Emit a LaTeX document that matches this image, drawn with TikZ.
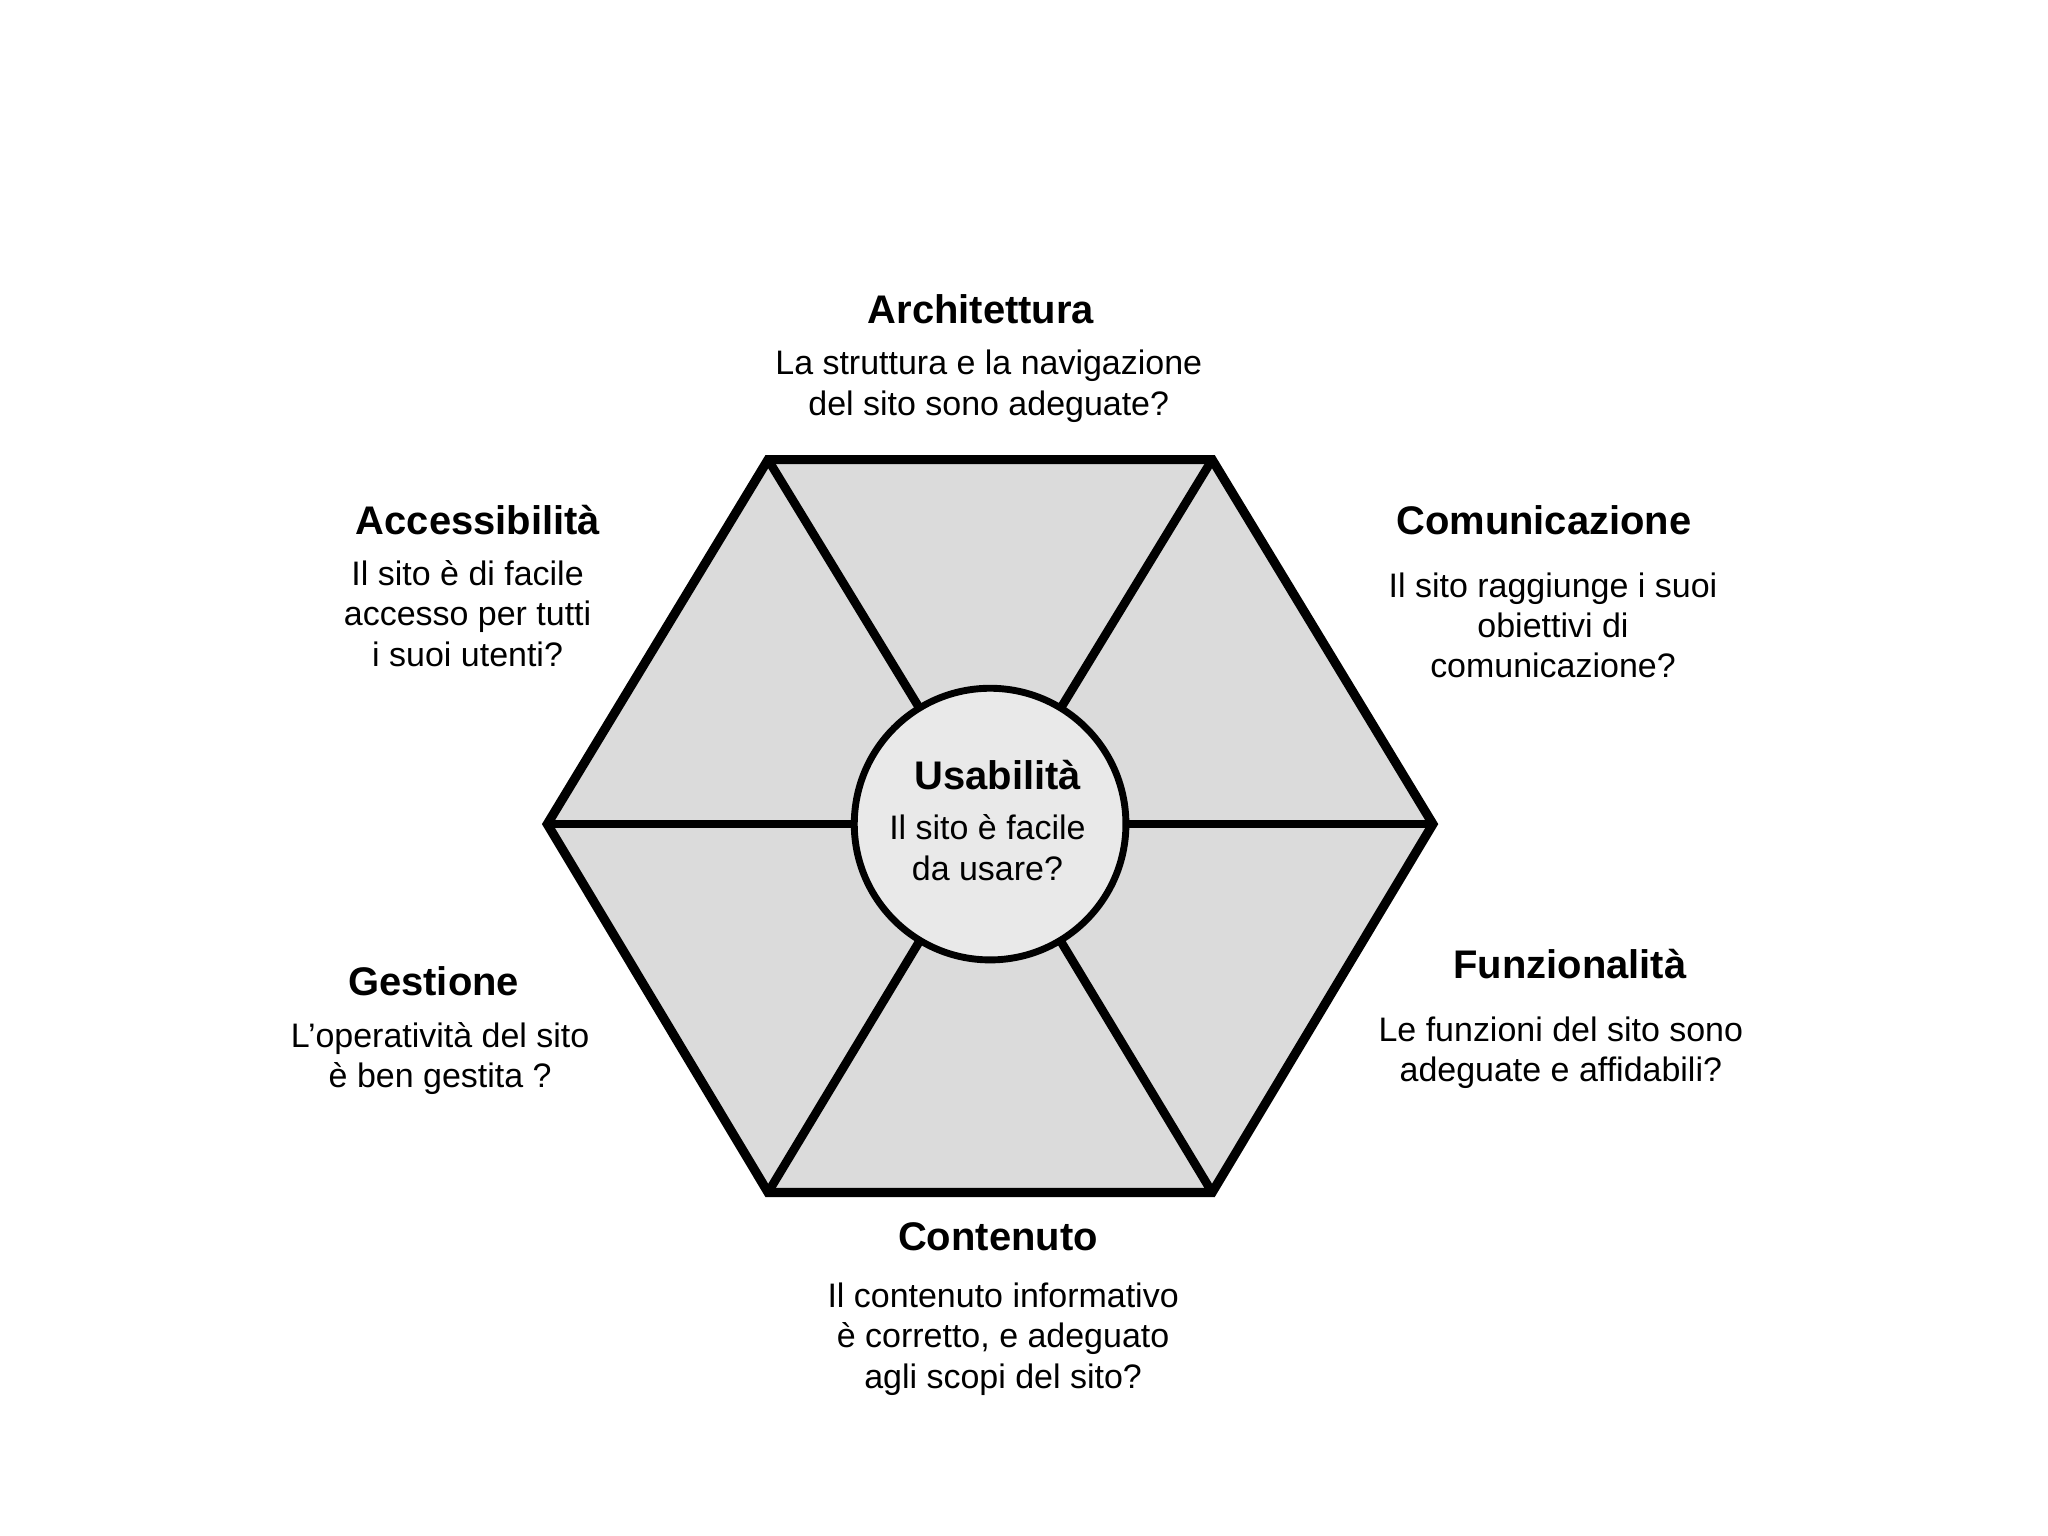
\documentclass[tikz,border=0pt]{standalone}
\usepackage{fontspec}
\setmainfont{Liberation Sans}
\usepackage{tikz}
\usetikzlibrary{calc}

\definecolor{grigio}{HTML}{DBDBDB}
\definecolor{grigiochiaro}{HTML}{E9E9E9}

\begin{document}
\begin{tikzpicture}[scale = 0.1,
	titolo/.style = {font = \fontsize{8.7}{10.4}\selectfont\bfseries, inner sep = 0, anchor = base},
	testo/.style = {font = \fontsize{7.4}{8.8}\selectfont, align = center, inner sep = 0, anchor = base}]
							\useasboundingbox (0, 0) rectangle (156.8, 117.6);

							\coordinate[](o) at (75.8, 54.5);
							\coordinate[](a) at (58.8, 82.4);
							\coordinate[](b) at (92.8, 82.4);
							\coordinate[](c) at (109.7, 54.5);
							\coordinate[](d) at (92.8, 26.3);
							\coordinate[](e) at (58.8, 26.3);
							\coordinate[](f) at (41.9, 54.5);

							\draw[line width = 2pt, fill = grigio] (a)--(b)--(c)--(d)--(e)--(f)--cycle;
							\foreach \v in {a, b, c, d, e, f}
								\draw[line width = 1.9pt] (o)--(\v);
							\node[circle, draw, line width = 1.5pt, fill = grigiochiaro, minimum size = 2.08cm, inner sep = 0](u) at (o){};

							\node[titolo](usab) at (76.4, 57.15){Usabilità};
							\node[testo](usabt) at (75.6, 50.2){Il sito è facile\\da usare?};

							\node[titolo](arch) at (75.1, 92.85){Architettura};
							\node[testo](archt) at (75.7, 85.8){La struttura e la navigazione\\del sito sono adeguate?};

							\node[titolo](acc) at (36.6, 76.65){Accessibilità};
							\node[testo](acct) at (35.8, 66.6){Il sito è di facile\\accesso per tutti\\i suoi utenti?};

							\node[titolo](com) at (118.2, 76.65){Comunicazione};
							\node[testo](comt) at (118.9, 65.7){Il sito raggiunge i suoi\\obiettivi di\\comunicazione?};

							\node[titolo](gest) at (33.2, 41.35){Gestione};
							\node[testo](gestt) at (33.7, 34.3){L’operatività del sito\\è ben gestita ?};

							\node[titolo](funz) at (120.2, 42.65){Funzionalità};
							\node[testo](funzt) at (119.5, 34.8){Le funzioni del sito sono\\adeguate e affidabili?};

							\node[titolo](cont) at (76.4, 21.85){Contenuto};
							\node[testo](contt) at (76.8, 11.3){Il contenuto informativo\\è corretto, e adeguato\\agli scopi del sito?};
						\end{tikzpicture}
\end{document}
